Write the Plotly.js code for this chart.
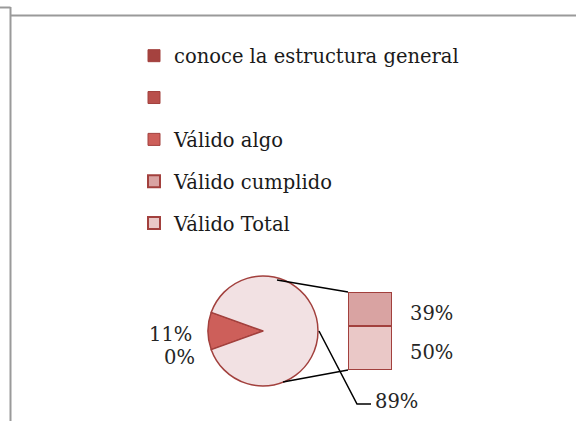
<!DOCTYPE html>
<html><head><meta charset="utf-8">
<script src="https://cdn.plot.ly/plotly-3.0.1.min.js"></script>
<style>html,body{margin:0;padding:0;background:#fff}#chart{width:576px;height:421px}</style>
</head><body><div id="chart"></div>
<script>
// Data
const categories = ["conoce la estructura general", "", "Válido algo", "Válido cumplido", "Válido Total"];
const values = [0, 0, 11, 39, 50];           // percent
const otherLabel = "Otro";
const legendColors = ["#A5423F", "#B9504C", "#CD5F5A", "#D9A3A2", "#EAC8C7"];
const otherColor = "#F2E1E3";
const lineColor = "#A2403D";

const W = 576, H = 421;
const px = x => x / W, py = y => 1 - y / H;

const otherValue = values[3] + values[4];

const traces = [];
// main pie: "Válido algo" slice + combined "Otro"
traces.push({
  type: 'pie',
  labels: [categories[2], otherLabel],
  values: [values[2], otherValue],
  sort: false,
  direction: 'clockwise',
  rotation: 270 - values[2] * 3.6 / 2,
  marker: {colors: [legendColors[2], otherColor], line: {color: lineColor, width: 1.5}},
  textinfo: 'none',
  hoverinfo: 'label+percent',
  showlegend: false,
  domain: {x: [px(263 - 55), px(263 + 55)], y: [py(331 + 55), py(331 - 55)]}
});
// legend-only entries
[0, 1, 2].forEach(i => traces.push({
  type: 'bar', x: [0], y: [null], name: categories[i],
  marker: {color: legendColors[i], line: {color: lineColor, width: 1}},
  legendgroup: 'g' + i, legendrank: i + 1, xaxis: 'x', yaxis: 'y'
}));
// stacked secondary bar: bottom Válido Total, top Válido cumplido
[4, 3].forEach(i => traces.push({
  type: 'bar', x: [0], y: [values[i]], name: categories[i],
  marker: {color: legendColors[i], line: {color: lineColor, width: 2}},
  legendgroup: 'g' + i, legendrank: i + 1, xaxis: 'x', yaxis: 'y',
  hoverinfo: 'name+y'
}));

const barTop = 292, barBot = 370, barL = 348, barR = 392;

const lab = (t, x, y, xa) => ({text: t, x: px(x), y: py(y), xref: 'paper', yref: 'paper',
  showarrow: false, xanchor: xa, yanchor: 'middle', font: {family: 'DejaVu Serif', size: 19.5, color: '#262626'}});

const layout = {
  width: W, height: H,
  margin: {l: 0, r: 0, t: 0, b: 0},
  paper_bgcolor: '#fff', plot_bgcolor: 'rgba(0,0,0,0)',
  barmode: 'stack', bargap: 0,
  xaxis: {domain: [px(barL), px(barR)], range: [-0.5, 0.5], visible: false, fixedrange: true},
  yaxis: {domain: [py(barBot), py(barTop)], range: [0, otherValue], visible: false, fixedrange: true},
  showlegend: true,
  legend: {x: px(134), y: py(36.5), xanchor: 'left', yanchor: 'top', traceorder: 'grouped',
    tracegroupgap: 13.5, bgcolor: 'rgba(0,0,0,0)',
    font: {family: 'DejaVu Serif', size: 19.5, color: '#1a1a1a'}},
  annotations: [
    lab(values[2] + '%', 194, 334, 'right'),
    lab(values[0] + '%', 197, 357, 'right'),
    lab(values[3] + '%', 408, 313, 'left'),
    lab(values[4] + '%', 408, 352, 'left'),
    lab(otherValue + '%', 373, 401, 'left')
  ],
  shapes: [
    // frame
    {type: 'line', xref: 'paper', yref: 'paper', x0: px(0), y0: py(7.5), x1: px(10.5), y1: py(7.5), line: {color: '#9a9a9a', width: 2}},
    {type: 'line', xref: 'paper', yref: 'paper', x0: px(10.5), y0: py(7), x1: px(10.5), y1: py(421), line: {color: '#9a9a9a', width: 2}},
    {type: 'line', xref: 'paper', yref: 'paper', x0: px(11), y0: py(15.5), x1: px(576), y1: py(15.5), line: {color: '#9a9a9a', width: 2}},
    // connectors
    {type: 'line', xref: 'paper', yref: 'paper', x0: px(277), y0: py(280), x1: px(barL), y1: py(barTop), line: {color: '#000', width: 1.5}},
    {type: 'line', xref: 'paper', yref: 'paper', x0: px(283), y0: py(382), x1: px(barL), y1: py(barBot), line: {color: '#000', width: 1.5}},
    // leader for 89%
    {type: 'path', xref: 'paper', yref: 'paper', path: `M${px(319)},${py(331)} L${px(357)},${py(404)} L${px(371)},${py(404)}`, line: {color: '#000', width: 1.5}}
  ]
};

Plotly.newPlot('chart', traces, layout, {displayModeBar: false, staticPlot: true});
</script></body></html>
